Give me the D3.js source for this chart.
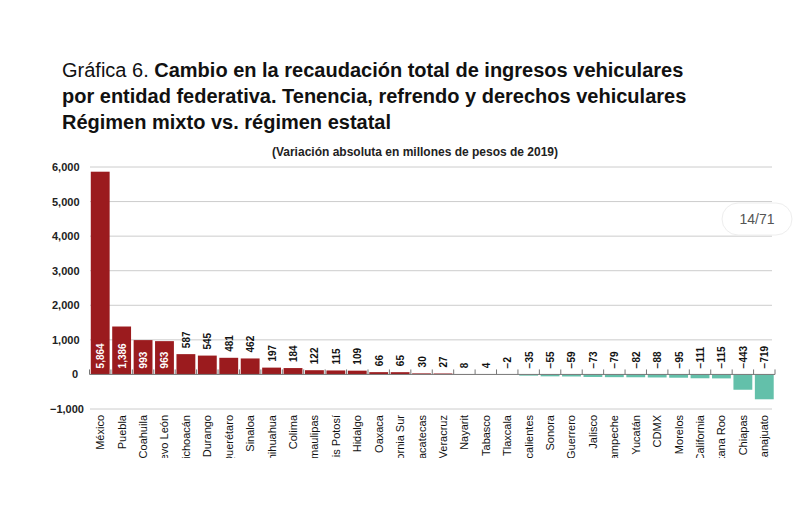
<!DOCTYPE html><html><head><meta charset="utf-8"><script src="https://cdn.jsdelivr.net/npm/d3@7"></script>
<style>body{margin:0;background:#fff}text{font-family:"Liberation Sans",Arial,sans-serif}</style></head><body><svg id="c" width="800" height="505"></svg>
<script>
const categories=["México","Puebla","Coahuila","Nuevo León","Michoacán","Durango","Querétaro","Sinaloa","Chihuahua","Colima","Tamaulipas","San Luis Potosí","Hidalgo","Oaxaca","Baja California Sur","Zacatecas","Veracruz","Nayarit","Tabasco","Tlaxcala","Aguascalientes","Sonora","Guerrero","Jalisco","Campeche","Yucatán","CDMX","Morelos","Baja California","Quintana Roo","Chiapas","Guanajuato"];
const values=[5864,1386,993,963,587,545,481,462,197,184,122,115,109,66,65,30,27,8,4,-2,-35,-55,-59,-73,-79,-82,-88,-95,-111,-115,-443,-719];
const yTicks=[-1000,0,1000,2000,3000,4000,5000,6000];
const svg=d3.select("#c");
const x=d3.scaleBand().domain(categories).range([89.5,775]).paddingInner(0.12).paddingOuter(0.06);
const y=d3.scaleLinear().domain([-1000,6000]).range([409,167]);
const fmt=d3.format(",");
const t=svg.append("text").attr("x",62).attr("y",77).attr("font-size",20).attr("fill","#111");
t.append("tspan").text("Gráfica 6. ");
t.append("tspan").attr("font-weight","bold").text("Cambio en la recaudación total de ingresos vehiculares");
svg.append("text").attr("x",62).attr("y",103).attr("font-size",20).attr("font-weight","bold").attr("fill","#111").text("por entidad federativa. Tenencia, refrendo y derechos vehiculares");
svg.append("text").attr("x",62).attr("y",129).attr("font-size",20).attr("font-weight","bold").attr("fill","#111").text("Régimen mixto vs. régimen estatal");
svg.append("text").attr("x",415).attr("y",156).attr("text-anchor","middle").attr("font-size",12).attr("font-weight","bold").attr("fill","#222").text("(Variación absoluta en millones de pesos de 2019)");
svg.append("g").selectAll("line").data(yTicks.filter(d=>d!==0)).join("line")
 .attr("x1",90).attr("x2",772).attr("y1",d=>y(d)).attr("y2",d=>y(d)).attr("stroke","#ccc").attr("stroke-width",1);
svg.append("g").selectAll("text").data(yTicks).join("text").attr("x",52).attr("y",d=>y(d)+4)
 .attr("font-size",11).attr("font-weight","bold").attr("fill","#222").text(d=>d===0?"0":fmt(d)).attr("text-anchor","start")
 .attr("dx",d=>d===0?20:(d<0?-2:0));
svg.append("g").selectAll("rect").data(values).join("rect")
 .attr("x",(d,i)=>x(categories[i])).attr("width",x.bandwidth())
 .attr("y",d=>y(Math.max(0,d))).attr("height",d=>Math.abs(y(d)-y(0)))
 .attr("fill",d=>d>=0?"#9b1b1e":"#63c0aa");
svg.append("line").attr("x1",89.5).attr("x2",775).attr("y1",y(0)).attr("y2",y(0)).attr("stroke","#777");
const step=x.step();
svg.append("g").selectAll("line").data(d3.range(categories.length+1)).join("line")
 .attr("x1",i=>89.5+i*step).attr("x2",i=>89.5+i*step).attr("y1",y(0)-5).attr("y2",y(0)).attr("stroke","#777");
svg.append("g").selectAll("text").data(values).join("text")
 .attr("transform",(d,i)=>{const cx=x(categories[i])+x.bandwidth()/2+4;const inside=i<4;const yy=inside?y(0)-6:y(Math.max(0,d))-6;return `translate(${cx},${yy}) rotate(-90)`;})
 .attr("font-size",10).attr("font-weight","bold").attr("fill",(d,i)=>i<4?"#fff":"#111").text(d=>fmt(d));
svg.append("clipPath").attr("id","cl").append("rect").attr("x",80).attr("y",412).attr("width",700).attr("height",46);
svg.append("g").attr("clip-path","url(#cl)").selectAll("text").data(categories).join("text")
 .attr("transform",d=>`translate(${x(d)+x.bandwidth()/2+4},${415}) rotate(-90)`)
 .attr("text-anchor","end").attr("font-size",11).attr("fill","#111").text(d=>d);
svg.append("rect").attr("x",722).attr("y",203).attr("width",70).attr("height",32).attr("rx",16).attr("fill","#fff").attr("stroke","#eee");
svg.append("text").attr("x",757).attr("y",224).attr("text-anchor","middle").attr("font-size",14).attr("fill","#555").text("14/71");
</script></body></html>
